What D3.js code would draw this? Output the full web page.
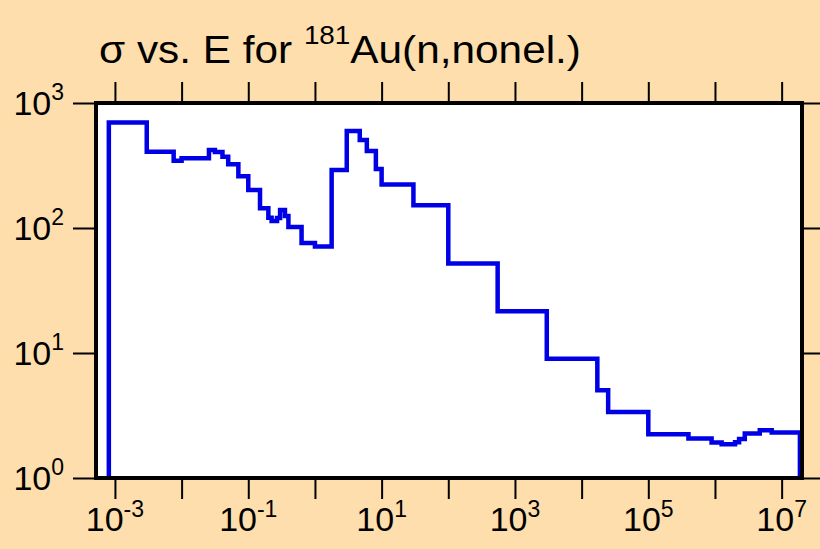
<!DOCTYPE html>
<html>
<head>
<meta charset="utf-8">
<script src="https://cdn.jsdelivr.net/npm/d3@7"></script>
<style>
  html, body { margin: 0; padding: 0; background: #fddeac; }
  svg { display: block; }
  text { font-family: "Liberation Sans", Arial, Helvetica, sans-serif; fill: #000; }
</style>
</head>
<body>
<svg id="chart" width="820" height="549"></svg>
<script>
// Bin edges (energy, eV) and cross-section values (barns) per bin
const binEdges = [8.1e-4, 3.0e-3, 7.6e-3, 1.0e-2, 0.0257, 0.0316, 0.041, 0.05, 0.071, 0.1, 0.15, 0.2, 0.224, 0.27, 0.30, 0.355, 0.40, 0.63, 1.0, 1.78, 3.0, 4.7, 6.0, 8.2, 10, 30, 100, 550, 3000, 17200, 25000, 1e5, 4e5, 8.9e5, 1.26e6, 2.0e6, 2.3e6, 2.8e6, 4.7e6, 7.1e6, 1.88e7];
const sigma = [698, 408, 345, 361, 420, 405, 372, 324, 260, 201, 144, 121, 114, 120, 139, 125, 102, 76, 71, 291, 597, 506, 413, 296, 223, 152, 52, 21.6, 9.0, 5.04, 3.38, 2.24, 2.07, 1.92, 1.86, 1.93, 2.05, 2.27, 2.41, 2.31];
const xTickExps = [-3, -2, -1, 0, 1, 2, 3, 4, 5, 6, 7];
const xLabelExps = [-3, -1, 1, 3, 5, 7];
const yTickExps = [0, 1, 2, 3];
const xDomain = [5.2e-4, 2.02e7];
const yDomain = [1, 1000];

const svg = d3.select("#chart");
const W = 820, H = 549;
const m = { left: 96, right: 18, top: 103, bottom: 71 };
const x = d3.scaleLog().domain(xDomain).range([m.left, W - m.right]);
const y = d3.scaleLog().domain(yDomain).range([H - m.bottom, m.top]);

svg.append("rect").attr("width", W).attr("height", H).attr("fill", "#fddeac");
svg.append("rect")
  .attr("x", m.left).attr("y", m.top)
  .attr("width", W - m.right - m.left).attr("height", H - m.bottom - m.top)
  .attr("fill", "#ffffff");

// step path
const pts = [[binEdges[0], yDomain[0]]];
sigma.forEach((v, i) => pts.push([binEdges[i], v]));
pts.push([binEdges[binEdges.length - 1], sigma[sigma.length - 1]]);
pts.push([binEdges[binEdges.length - 1], yDomain[0]]);
const line = d3.line().x(d => x(d[0])).y(d => y(d[1])).curve(d3.curveStepAfter);
svg.append("path").attr("d", line(pts))
  .attr("fill", "none").attr("stroke", "#0000e6").attr("stroke-width", 4.5)
  .attr("stroke-linejoin", "miter");

// axes with outward ticks
const tickVals = xTickExps.map(e => Math.pow(10, e));
const yVals = yTickExps.map(e => Math.pow(10, e));
const tickLen = 19;
function styleAxis(g) {
  g.select(".domain").remove();
  g.selectAll(".tick line").attr("stroke", "#000").attr("stroke-width", 2);
  g.selectAll(".tick text").remove();
}
svg.append("g").attr("transform", `translate(0,${H - m.bottom + 2})`)
  .call(d3.axisBottom(x).tickValues(tickVals).tickSize(tickLen).tickFormat(""))
  .call(styleAxis);
svg.append("g").attr("transform", `translate(0,${m.top - 2})`)
  .call(d3.axisTop(x).tickValues(tickVals).tickSize(tickLen).tickFormat(""))
  .call(styleAxis);
svg.append("g").attr("transform", `translate(${m.left - 2},0)`)
  .call(d3.axisLeft(y).tickValues(yVals).tickSize(tickLen + 2).tickFormat(""))
  .call(styleAxis);
svg.append("g").attr("transform", `translate(${W - m.right + 2},0)`)
  .call(d3.axisRight(y).tickValues(yVals).tickSize(tickLen + 2).tickFormat(""))
  .call(styleAxis);

// frame
svg.append("rect")
  .attr("x", m.left).attr("y", m.top)
  .attr("width", W - m.right - m.left).attr("height", H - m.bottom - m.top)
  .attr("fill", "none").attr("stroke", "#000").attr("stroke-width", 4);

// x labels
xLabelExps.forEach(e => {
  const t = svg.append("text")
    .attr("x", x(Math.pow(10, e))).attr("y", 531)
    .attr("text-anchor", "middle").style("font-size", "34px");
  t.append("tspan").text("10");
  t.append("tspan").attr("dy", -14).style("font-size", "23px").text(String(e));
});
// y labels
yTickExps.forEach(e => {
  const t = svg.append("text")
    .attr("x", 64).attr("y", y(Math.pow(10, e)) + 12)
    .attr("text-anchor", "end").style("font-size", "34px");
  t.append("tspan").text("10");
  t.append("tspan").attr("dy", -15).style("font-size", "23px").text(String(e));
});

// title
const titleG = svg.append("g");
const title = titleG.append("text").attr("x", 0).attr("y", 0).style("font-size", "38px");
title.append("tspan").text("σ vs. E for ");
title.append("tspan").attr("dy", -19).style("font-size", "25px").text("181");
title.append("tspan").attr("dy", 19).text("Au(n,nonel.)");
const tw = title.node().getComputedTextLength();
const sx = Math.min(1.2, Math.max(0.9, 482 / tw));
titleG.attr("transform", `translate(99,63) scale(${sx},1)`);
</script>
</body>
</html>
